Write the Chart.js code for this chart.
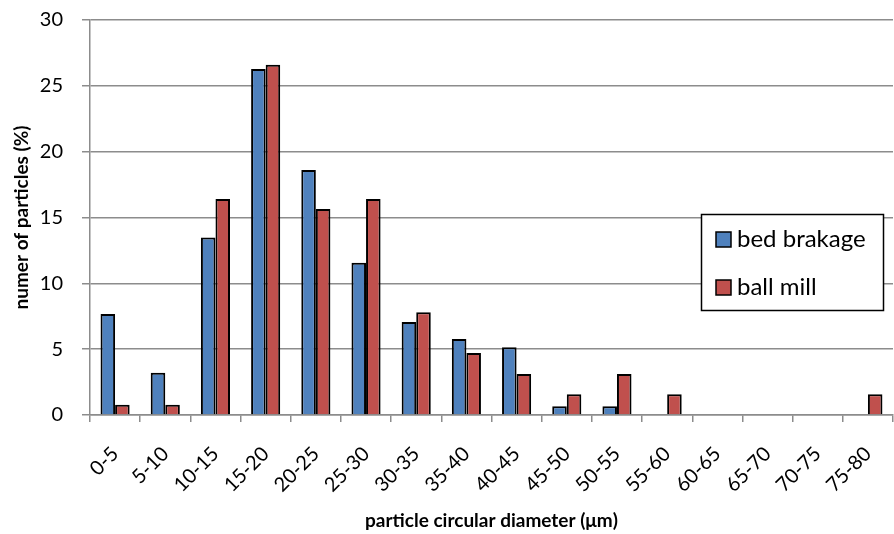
<!DOCTYPE html>
<html>
<head>
<meta charset="utf-8">
<script src="https://cdn.jsdelivr.net/npm/chart.js@4.4.1/dist/chart.umd.min.js"></script>
<style>
html,body{margin:0;padding:0;background:#fff;}
#wrap{width:894px;height:534px;position:relative;}
</style>
</head>
<body>
<div id="wrap"><canvas id="c" width="894" height="534"></canvas></div>
<script>
const categories = ["0-5","5-10","10-15","15-20","20-25","25-30","30-35","35-40","40-45","45-50","50-55","55-60","60-65","65-70","70-75","75-80"];
const bedBrakage = [7.67, 3.2, 13.49, 26.27, 18.6, 11.57, 7.06, 5.77, 5.14, 0.66, 0.66, 0, 0, 0, 0, 0];
const ballMill   = [0.78, 0.78, 16.4, 26.6, 15.64, 16.4, 7.8, 4.7, 3.11, 1.57, 3.11, 1.57, 0, 0, 0, 1.57];
const yTicks = [0, 5, 10, 15, 20, 25, 30];
const seriesNames = ["bed brakage", "ball mill"];
const FONT = "Lato, 'Open Sans', sans-serif";

const legendPlugin = {
  id: 'boxLegend',
  afterDraw(chart) {
    const ctx = chart.ctx;
    const x = 701, y = 214, w = 182, h = 96;
    ctx.save();
    ctx.fillStyle = '#fff';
    ctx.fillRect(x, y, w, h);
    ctx.strokeStyle = '#000';
    ctx.lineWidth = 1.5;
    ctx.strokeRect(x + 0.5, y + 0.5, w, h);
    chart.data.datasets.forEach((ds, i) => {
      const cy = y + 25 + i * 48;
      ctx.fillStyle = ds.backgroundColor;
      ctx.fillRect(x + 15, cy - 7, 15, 15);
      ctx.strokeStyle = '#000';
      ctx.lineWidth = 1.5;
      ctx.strokeRect(x + 15, cy - 7, 15, 15);
      ctx.fillStyle = '#000';
      ctx.font = "24px " + FONT;
      ctx.textBaseline = 'middle';
      ctx.textAlign = 'left';
      ctx.fillText(ds.label, x + 36, cy);
    });
    ctx.restore();
  }
};

new Chart(document.getElementById('c'), {
  type: 'bar',
  data: {
    labels: categories,
    datasets: [
      { label: seriesNames[0], data: bedBrakage, backgroundColor: '#4F81BD', borderColor: '#000', borderWidth: 2 },
      { label: seriesNames[1], data: ballMill, backgroundColor: '#C0504D', borderColor: '#000', borderWidth: 2 }
    ]
  },
  options: {
    responsive: false,
    animation: false,
    layout: { padding: { top: 20, right: 1, bottom: 2, left: 0 } },
    datasets: { bar: { categoryPercentage: 0.58, barPercentage: 1.0 } },
    plugins: { legend: { display: false }, tooltip: { enabled: false } },
    scales: {
      x: {
        offset: true,
        grid: { offset: true, drawOnChartArea: false, color: '#8c8c8c', lineWidth: 1.5, tickLength: 7 },
        border: { color: '#8c8c8c', width: 1.5 },
        ticks: { color: '#000', font: { family: FONT, size: 20 }, minRotation: 45, maxRotation: 45, autoSkip: false, padding: 20 },
        title: { display: true, text: 'particle circular diameter (μm)', color: '#000', font: { family: FONT, size: 19, weight: 'bold' }, padding: { top: 0, bottom: 0 } },
        afterFit(scale) { scale.height = 117; scale.paddingRight = 0; scale.paddingLeft = 0; }
      },
      y: {
        min: 0, max: 30,
        afterBuildTicks(scale) { scale.ticks = yTicks.map(v => ({ value: v })); },
        grid: { color: '#8c8c8c', lineWidth: 1.5, tickLength: 8 },
        border: { color: '#8c8c8c', width: 1.5 },
        ticks: { color: '#000', font: { family: FONT, size: 20 }, padding: 19 },
        title: { display: true, text: 'numer of particles (%)', color: '#000', font: { family: FONT, size: 19, weight: 'bold' }, padding: { top: 10, bottom: 0 } },
        afterFit(scale) { scale.width = 90; scale.paddingTop = 12; scale.paddingBottom = 12; }
      }
    }
  },
  plugins: [legendPlugin]
});
</script>
</body>
</html>
